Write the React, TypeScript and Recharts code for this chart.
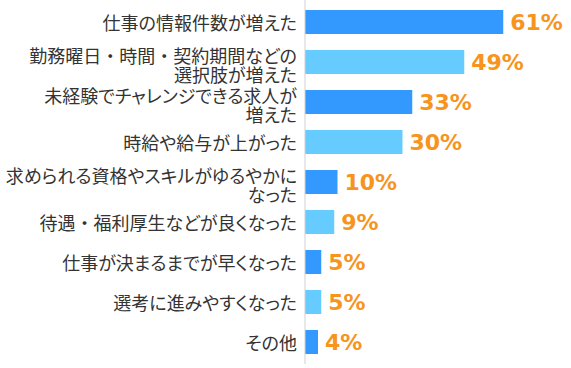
import React from 'react';
import { BarChart, Bar, XAxis, YAxis, Cell, LabelList } from 'recharts';

const categories = [
  '仕事の情報件数が増えた',
  '勤務曜日・時間・契約期間などの\n選択肢が増えた',
  '未経験でチャレンジできる求人が\n増えた',
  '時給や給与が上がった',
  '求められる資格やスキルがゆるやかに\nなった',
  '待遇・福利厚生などが良くなった',
  '仕事が決まるまでが早くなった',
  '選考に進みやすくなった',
  'その他',
];
const shares = [61, 49, 33, 30, 10, 9, 5, 5, 4];
const barColors = ['#3399FF', '#66CCFF'];

const data = categories.map((name, i) => ({ name, value: shares[i] }));

// proportional kana, but keep the middle dot full width like the original
function renderLine(line: string) {
  return line.split(/(・)/).map((part, j) =>
    part === '・' ? (
      <tspan key={j} style={{ fontFeatureSettings: 'normal' }}>{part}</tspan>
    ) : (
      <tspan key={j}>{part}</tspan>
    )
  );
}

function CategoryTick({ x, y, payload }: { x?: number; y?: number; payload?: { value: string } }) {
  const lines = String(payload?.value ?? '').split('\n');
  const lineH = 19;
  const start = lines.length > 1 ? -7 : 0;
  return (
    <text
      x={x}
      y={y}
      textAnchor="end"
      fill="#333"
      fontSize={18}
      style={{ fontFamily: '"Noto Sans CJK JP", sans-serif', fontFeatureSettings: '"palt"' }}
    >
      {lines.map((l, i) => (
        <tspan key={i} x={x} y={(y ?? 0) + start + i * lineH} dominantBaseline="central">
          {renderLine(l)}
        </tspan>
      ))}
    </text>
  );
}

export default function App() {
  return (
    <div style={{ position: 'absolute', left: 0, top: 0, background: '#fff' }}>
      <BarChart
        width={571}
        height={368}
        data={data}
        layout="vertical"
        margin={{ top: 0, right: 6, bottom: 4, left: 0 }}
      >
        <XAxis type="number" domain={[0, 80]} hide />
        <YAxis
          type="category"
          dataKey="name"
          width={305}
          padding={{ top: 2, bottom: 2 }}
          axisLine={{ stroke: '#d0d0d0' }}
          tickLine={false}
          tickSize={0}
          tickMargin={8}
          interval={0}
          tick={<CategoryTick />}
        />
        <Bar dataKey="value" barSize={24} isAnimationActive={false}>
          {data.map((_, i) => (
            <Cell key={i} fill={barColors[i % 2]} />
          ))}
          <LabelList
            dataKey="value"
            position="right"
            offset={7}
            formatter={(v: any) => `${v}%`}
            fill="#F7941D"
            fontSize={22}
            fontWeight="bold"
            fontFamily="DejaVu Sans"
          />
        </Bar>
      </BarChart>
    </div>
  );
}
